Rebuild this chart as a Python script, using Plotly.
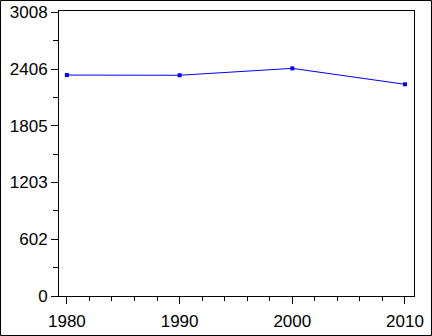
import plotly.graph_objects as go

years = [1980, 1990, 2000, 2010]
values = [2342, 2340, 2413, 2244]
y_ticks = [0, 602, 1203, 1805, 2406, 3008]
y_minor = [301, 902, 1504, 2105, 2707]
x_ticks = [1980, 1990, 2000, 2010]

W, H = 432, 336
L, R, T, B = 59, 18, 11, 40
pw, ph = W - L - R, H - T - B

fig = go.Figure()
fig.add_trace(go.Scatter(
    x=years, y=values, mode="lines+markers",
    line=dict(color="#0000ff", width=1),
    marker=dict(symbol="square", size=4, color="#0000ff"),
))

font = dict(family="Liberation Sans, Arial, sans-serif", size=17, color="black")
fig.update_layout(
    width=W, height=H,
    margin=dict(l=L, r=R, t=T, b=B, autoexpand=False),
    paper_bgcolor="white", plot_bgcolor="white",
    showlegend=False,
    font=font,
    xaxis=dict(
        range=[1979.3, 2010.8], tickvals=x_ticks, ticktext=[str(v) for v in x_ticks],
        showline=True, linecolor="black", linewidth=1, mirror=True,
        ticks="outside", ticklen=7, tickwidth=1, tickcolor="black",
        showgrid=False, zeroline=False, tickfont=font, automargin=False,
        ticklabelstandoff=3,
        minor=dict(tickvals=[1982, 1984, 1986, 1988, 1992, 1994, 1996, 1998,
                             2002, 2004, 2006, 2008],
                   ticks="outside", ticklen=4, tickcolor="black", tickwidth=1),
    ),
    yaxis=dict(
        range=[0, 3021], tickvals=y_ticks, ticktext=[str(v) for v in y_ticks],
        showline=True, linecolor="black", linewidth=1, mirror=True,
        ticks="outside", ticklen=7, tickwidth=1, tickcolor="black",
        showgrid=False, zeroline=False, tickfont=font, automargin=False,
        minor=dict(tickvals=y_minor, ticks="outside", ticklen=5,
                   tickcolor="black", tickwidth=1),
    ),
    shapes=[dict(
        type="rect", xref="paper", yref="paper",
        x0=(-L + 0.5) / pw, x1=1 + (R - 0.5) / pw,
        y0=(-B + 0.5) / ph, y1=1 + (T - 0.5) / ph,
        line=dict(color="black", width=1), layer="above",
    )],
)

fig.write_html("out.html", config={"displayModeBar": False})
